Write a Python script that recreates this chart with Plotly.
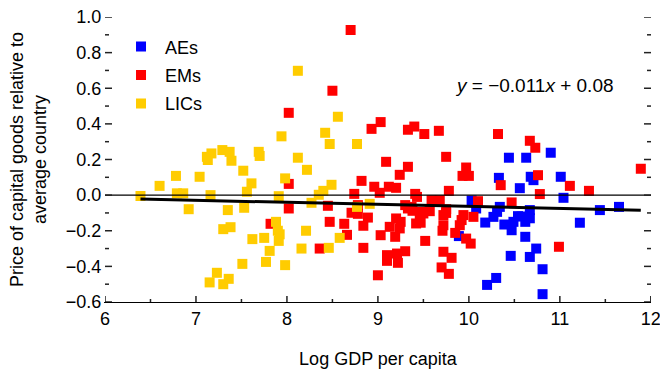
import plotly.graph_objects as go

# ---- data ----
ae_x = [10.44, 10.63, 10.90, 10.33, 10.68, 10.71, 10.56, 11.01, 11.04, 10.03,
        10.08, 10.34, 10.31, 10.67, 10.67, 10.18, 10.27, 10.39, 10.47, 10.49,
        10.54, 10.62, 10.62, 10.46, 10.67, 10.74, 10.81, 10.30, 10.20, 10.81,
        9.89, 11.44, 11.65, 11.22, 10.58]
ae_y = [0.21, 0.21, 0.238, 0.097, 0.103, 0.084, 0.039, 0.103, -0.015, -0.03,
        -0.075, -0.066, -0.094, -0.084, -0.13, -0.154, -0.122, -0.165, -0.197, -0.15,
        -0.118, -0.15, -0.234, -0.341, -0.347, -0.30, -0.416, -0.465, -0.504, -0.556,
        -0.23, -0.084, -0.066, -0.155, -0.12]

em_x = [8.70, 8.50, 8.02, 8.93, 9.03, 9.33, 9.40, 9.51, 9.67, 10.32,
        10.67, 10.73, 9.75, 9.09, 9.33, 9.24, 9.97, 9.93, 10.00, 10.35,
        10.76, 10.78, 11.11, 11.32, 11.89, 8.02, 8.74, 8.82, 8.96, 9.02,
        9.12, 9.20, 9.41, 9.43, 9.78, 9.59, 9.68, 10.10, 10.47, 8.02,
        8.45, 8.78, 8.71, 8.78, 8.89, 8.84, 8.63, 8.47, 8.66, 8.36,
        8.84, 7.82, 9.00, 9.30, 9.37, 9.38, 9.48, 9.33, 9.20, 9.13,
        9.24, 9.46, 9.47, 9.25, 9.42, 9.03, 9.19, 9.10, 9.10, 9.22,
        9.21, 9.30, 9.50, 9.57, 9.75, 9.75, 9.72, 9.94, 10.05, 9.92,
        9.72, 9.71, 9.90, 9.85, 9.97, 10.02, 9.52, 9.72, 9.81, 9.70,
        9.78, 10.99]
em_y = [0.927, 0.586, 0.462, 0.372, 0.41, 0.367, 0.385, 0.343, 0.361, 0.343,
        0.305, 0.266, 0.215, 0.187, 0.159, 0.114, 0.155, 0.108, 0.108, 0.056,
        0.112, 0.006, 0.052, 0.024, 0.148, 0.063, 0.007, 0.08, 0.047, 0.013,
        0.047, 0.041, 0.007, -0.01, 0.024, -0.028, -0.028, -0.034, -0.041, -0.075,
        -0.06, -0.056, -0.099, -0.105, -0.126, -0.172, -0.161, -0.15, -0.223, -0.30,
        -0.296, -0.161, -0.45, -0.056, -0.066, -0.088, -0.094, -0.075, -0.131, -0.178,
        -0.187, -0.131, -0.155, -0.15, -0.159, -0.225, -0.234, -0.337, -0.369, -0.38,
        -0.328, -0.315, -0.103, -0.09, -0.079, -0.10, -0.112, -0.112, -0.122, -0.14,
        -0.169, -0.20, -0.169, -0.212, -0.244, -0.272, -0.257, -0.318, -0.352, -0.406,
        -0.442, -0.29]

lic_x = [6.39, 6.60, 6.78, 6.79, 6.86, 6.92, 7.04, 7.12, 7.13, 7.16,
         7.17, 7.29, 7.37, 7.39, 7.35, 7.53, 7.52, 7.61, 7.56, 7.30,
         7.38, 7.62, 7.75, 7.81, 7.51, 7.77, 7.98, 7.23, 7.36, 7.15,
         7.30, 7.69, 7.70, 7.94, 8.12, 8.56, 8.42, 8.47, 8.77, 8.12,
         8.22, 7.98, 7.91, 7.88, 7.90, 7.92, 7.91, 8.21, 8.16, 8.46,
         8.58, 8.77, 8.91, 8.27, 8.35, 8.40, 8.49]
lic_y = [-0.005, 0.052, 0.108, 0.01, 0.01, -0.079, 0.103, 0.215, 0.197, 0.0,
         0.234, 0.253, 0.243, 0.193, -0.084, -0.071, 0.137, 0.066, 0.019, -0.191,
         -0.18, -0.247, -0.24, -0.313, -0.386, -0.375, -0.393, -0.436, -0.47, -0.49,
         -0.50, 0.243, 0.22, 0.33, 0.698, 0.44, 0.35, 0.287, 0.287, 0.21,
         0.142, 0.094, -0.006, -0.15, -0.20, -0.22, -0.257, -0.20, -0.30, -0.296,
         -0.24, -0.066, -0.049, -0.043, 0.002, 0.024, 0.058]

fit_slope = -0.0113
fit_intercept = 0.050
fit_x = [6.39, 11.89]
fit_y = [fit_intercept + fit_slope * v for v in fit_x]

x_ticks = [6, 7, 8, 9, 10, 11, 12]
x_minor = [6.5, 7.5, 8.5, 9.5, 10.5, 11.5]
y_ticks = [-0.6, -0.4, -0.2, 0.0, 0.2, 0.4, 0.6, 0.8, 1.0]
y_minor = [-0.5, -0.3, -0.1, 0.1, 0.3, 0.5, 0.7, 0.9]

FONT = "Liberation Sans, Arial, sans-serif"
FS = 18

# plot area size in px (for tick lengths expressed as paper fractions)
PW, PH = 660 - 105 - 9, 371 - 17 - 69

fig = go.Figure()
series = [("AEs", ae_x, ae_y, "#0000FF"),
          ("EMs", em_x, em_y, "#FF0000"),
          ("LICs", lic_x, lic_y, "#FFCC00")]
for name, xs, ys, col in series:
    fig.add_trace(go.Scatter(
        x=xs, y=ys, mode="markers", name=name, legendgroup=name,
        marker=dict(symbol="square", size=10, color=col, line=dict(width=0)),
    ))

fig.add_trace(go.Scatter(
    x=fit_x, y=fit_y, mode="lines", showlegend=False,
    line=dict(color="black", width=3), hoverinfo="skip",
))

fig.add_shape(type="line", xref="paper", yref="y", x0=0, x1=1, y0=0, y1=0,
              line=dict(color="black", width=1.3), layer="above")

# tick marks (inside) on left and right of the y axis, bottom of the x axis
tick_style = dict(color="#222222", width=1.5)
for vals, ln in ((y_ticks, 7), (y_minor, 4)):
    for v in vals:
        fig.add_shape(type="line", xref="paper", yref="y", x0=0, x1=ln / PW,
                      y0=v, y1=v, line=tick_style, layer="above")
        fig.add_shape(type="line", xref="paper", yref="y", x0=1 - ln / PW, x1=1,
                      y0=v, y1=v, line=tick_style, layer="above")
for vals, ln in ((x_ticks, 6), (x_minor, 3)):
    for v in vals:
        fig.add_shape(type="line", xref="x", yref="paper", x0=v, x1=v,
                      y0=0, y1=ln / PH, line=tick_style, layer="above")

fig.add_annotation(
    text="<i>y</i> = \u22120.011<i>x</i> + 0.08",
    xref="paper", yref="paper", x=0.936, y=0.758,
    xanchor="right", yanchor="middle", showarrow=False,
    font=dict(family=FONT, size=19, color="black"),
)

fig.update_layout(
    width=660, height=371,
    margin=dict(l=105, r=9, t=17, b=69, autoexpand=False),
    paper_bgcolor="white", plot_bgcolor="white",
    font=dict(family=FONT, size=FS, color="black"),
    showlegend=True,
    legend=dict(x=0.022, y=0.96, xanchor="left", yanchor="top",
                bgcolor="rgba(0,0,0,0)", tracegroupgap=2, itemwidth=38,
                font=dict(family=FONT, size=FS, color="black")),
    xaxis=dict(
        range=[6, 12.002], tickvals=x_ticks, ticktext=[str(v) for v in x_ticks],
        showgrid=False, zeroline=False, ticklabeloverflow="allow",
        automargin=False,
        showline=True, linecolor="black", linewidth=1.3,
        ticks="", 
        title=dict(text="Log GDP per capita", standoff=24,
                   font=dict(family=FONT, size=FS)),
    ),
    yaxis=dict(
        range=[-0.6, 1.0], tickvals=y_ticks,
        tickformat=".1f", ticklabelstandoff=-1,
        automargin=False,
        showgrid=False, zeroline=False,
        showline=True, linecolor="rgba(0,0,0,0)", linewidth=1,
        ticks="",
        title=dict(text="Price of capital goods relative to<br>average country",
                   standoff=14, font=dict(family=FONT, size=FS)),
    ),
)

fig.write_html("out.html")
